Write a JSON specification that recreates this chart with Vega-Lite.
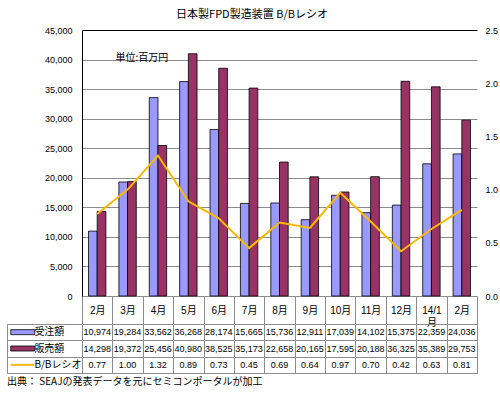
{
  "$schema": "https://vega.github.io/schema/vega-lite/v6.json",
  "padding": {"left": 6, "top": 9, "right": 0, "bottom": 0},
  "background": "white",
  "title": {"text": "日本製FPD製造装置 B/Bレシオ", "font": "Noto Sans CJK JP", "fontSize": 11, "fontWeight": "normal", "anchor": "middle", "offset": 6, "color": "black"},
  "datasets": {
    "main": [
      {"m": "13/2", "受注額": 10974, "販売額": 14298, "B/Bレシオ": 0.77},
      {"m": "13/3", "受注額": 19284, "販売額": 19372, "B/Bレシオ": 1.00},
      {"m": "13/4", "受注額": 33562, "販売額": 25456, "B/Bレシオ": 1.32},
      {"m": "13/5", "受注額": 36268, "販売額": 40980, "B/Bレシオ": 0.89},
      {"m": "13/6", "受注額": 28174, "販売額": 38525, "B/Bレシオ": 0.73},
      {"m": "13/7", "受注額": 15665, "販売額": 35173, "B/Bレシオ": 0.45},
      {"m": "13/8", "受注額": 15736, "販売額": 22658, "B/Bレシオ": 0.69},
      {"m": "13/9", "受注額": 12911, "販売額": 20165, "B/Bレシオ": 0.64},
      {"m": "13/10", "受注額": 17039, "販売額": 17595, "B/Bレシオ": 0.97},
      {"m": "13/11", "受注額": 14102, "販売額": 20188, "B/Bレシオ": 0.70},
      {"m": "13/12", "受注額": 15375, "販売額": 36325, "B/Bレシオ": 0.42},
      {"m": "14/1", "受注額": 22359, "販売額": 35389, "B/Bレシオ": 0.63},
      {"m": "14/2", "受注額": 24036, "販売額": 29753, "B/Bレシオ": 0.81}
    ],
    "rows": [{"key": "受注額"}, {"key": "販売額"}, {"key": "B/Bレシオ"}]
  },
  "columns": 2,
  "spacing": {"row": 28, "column": 0},
  "bounds": "flush",
  "align": "each",
  "concat": [
    {
      "width": 75, "height": 266,
      "data": {"values": [{}]},
      "mark": {"type": "text", "text": ""},
      "encoding": {}
    },
    {
      "width": 395, "height": 266,
      "data": {"name": "main"},
      "encoding": {
        "x": {
          "field": "m", "type": "nominal",
          "sort": ["13/2","13/3","13/4","13/5","13/6","13/7","13/8","13/9","13/10","13/11","13/12","14/1","14/2"],
          "scale": {"paddingInner": 0, "paddingOuter": 0},
          "axis": {
            "title": null,
            "labelExpr": "datum.value == null ? '' : datum.value === '14/1' ? ['14/1','月'] : split(datum.value,'/')[1] + '月'",
            "tickBand": "extent", "tickSize": 28, "tickColor": "#8c8c8c", "domainColor": "#8c8c8c",
            "labelPadding": -14, "labelBaseline": "middle", "labelAngle": 0, "labelFontSize": 10,
            "labelLineHeight": 12, "grid": false
          }
        }
      },
      "layer": [
        {
          "transform": [{"fold": ["受注額", "販売額"], "as": ["key", "value"]}],
          "mark": {"type": "bar", "stroke": "black", "strokeWidth": 0.8},
          "encoding": {
            "xOffset": {"field": "key", "type": "nominal", "sort": ["受注額", "販売額"], "scale": {"paddingInner": 0, "paddingOuter": 0.746}},
            "y": {
              "field": "value", "type": "quantitative",
              "scale": {"domain": [0, 45000], "nice": false},
              "axis": {
                "title": "単位:百万円", "titleAngle": 0, "titleAlign": "left", "titleBaseline": "middle",
                "titleX": 33, "titleY": 27, "titleFont": "Noto Sans CJK JP", "titleFontSize": 10, "titleFontWeight": "normal", "titleColor": "black",
                "values": [0,5000,10000,15000,20000,25000,30000,35000,40000,45000],
                "format": ",d", "grid": true,
                "gridColor": {"condition": {"test": "datum.value >= 45000", "value": "black"}, "value": "#8c8c8c"},
                "ticks": false, "labelPadding": 10, "domainColor": "black", "labelFontSize": 9
              }
            },
            "color": {"field": "key", "type": "nominal", "scale": {"domain": ["受注額", "販売額"], "range": ["#9999FF", "#993366"]}, "legend": null}
          }
        },
        {
          "mark": {"type": "line", "color": "#FFB800", "strokeWidth": 2},
          "encoding": {
            "y": {
              "field": "B/Bレシオ", "type": "quantitative",
              "scale": {"domain": [0, 2.5]},
              "axis": {"orient": "right", "title": null, "values": [0, 0.5, 1, 1.5, 2, 2.5], "format": ".1f", "grid": false, "domain": false, "ticks": false, "labelPadding": 8, "labelFontSize": 9}
            }
          }
        }
      ],
      "resolve": {"scale": {"y": "independent"}}
    },
    {
      "width": 75, "height": 49,
      "data": {"name": "rows"},
      "view": {"stroke": "#8c8c8c"},
      "title": {"text": "出典：  SEAJの発表データを元にセミコンポータルが加工", "orient": "bottom", "anchor": "start", "offset": 4, "fontSize": 10, "fontWeight": "normal", "font": "Noto Sans CJK JP", "color": "black"},
      "encoding": {
        "y": {
          "field": "key", "type": "nominal", "sort": ["受注額", "販売額", "B/Bレシオ"],
          "scale": {"paddingInner": 0, "paddingOuter": 0},
          "axis": {"grid": true, "tickBand": "extent", "labels": false, "ticks": false, "domain": false, "title": null, "gridColor": "#8c8c8c"}
        }
      },
      "layer": [
        {
          "transform": [{"filter": "datum.key !== 'B/Bレシオ'"}],
          "mark": {"type": "bar", "size": 5, "stroke": "black", "strokeWidth": 0.8},
          "encoding": {
            "x": {"datum": 0.05, "type": "quantitative", "scale": {"domain": [0, 1]}, "axis": null},
            "x2": {"datum": 0.37},
            "color": {"field": "key", "type": "nominal", "scale": {"domain": ["受注額", "販売額"], "range": ["#9999FF", "#993366"]}, "legend": null}
          }
        },
        {
          "transform": [{"filter": "datum.key === 'B/Bレシオ'"}],
          "mark": {"type": "rule", "color": "#FFB800", "strokeWidth": 2},
          "encoding": {"x": {"datum": 0.05, "type": "quantitative"}, "x2": {"datum": 0.36}}
        },
        {
          "mark": {"type": "text", "align": "left", "fontSize": 10, "font": "Noto Sans CJK JP", "color": "black"},
          "encoding": {"x": {"datum": 0.365, "type": "quantitative"}, "text": {"field": "key"}}
        }
      ]
    },
    {
      "width": 395, "height": 49,
      "data": {"name": "main"},
      "view": {"stroke": "#8c8c8c"},
      "transform": [{"fold": ["受注額", "販売額", "B/Bレシオ"], "as": ["key", "value"]}],
      "encoding": {
        "x": {
          "field": "m", "type": "nominal",
          "sort": ["13/2","13/3","13/4","13/5","13/6","13/7","13/8","13/9","13/10","13/11","13/12","14/1","14/2"],
          "scale": {"paddingInner": 0, "paddingOuter": 0},
          "axis": {"grid": true, "tickBand": "extent", "labels": false, "ticks": false, "domain": false, "title": null, "gridColor": "#8c8c8c"}
        },
        "y": {
          "field": "key", "type": "nominal", "sort": ["受注額", "販売額", "B/Bレシオ"],
          "scale": {"paddingInner": 0, "paddingOuter": 0},
          "axis": {"grid": true, "tickBand": "extent", "labels": false, "ticks": false, "domain": false, "title": null, "gridColor": "#8c8c8c"}
        }
      },
      "layer": [
        {
          "transform": [{"filter": "datum.key !== 'B/Bレシオ'"}],
          "mark": {"type": "text", "fontSize": 9, "color": "black"},
          "encoding": {"text": {"field": "value", "type": "quantitative", "format": ","}}
        },
        {
          "transform": [{"filter": "datum.key === 'B/Bレシオ'"}],
          "mark": {"type": "text", "fontSize": 9, "color": "black"},
          "encoding": {"text": {"field": "value", "type": "quantitative", "format": ".2f"}}
        }
      ]
    }
  ],
  "config": {
    "font": "Liberation Sans, Noto Sans CJK JP",
    "axis": {"labelColor": "black", "labelFont": "Liberation Sans, Noto Sans CJK JP"},
    "text": {"font": "Liberation Sans, Noto Sans CJK JP"},
    "view": {"stroke": null}
  }
}
